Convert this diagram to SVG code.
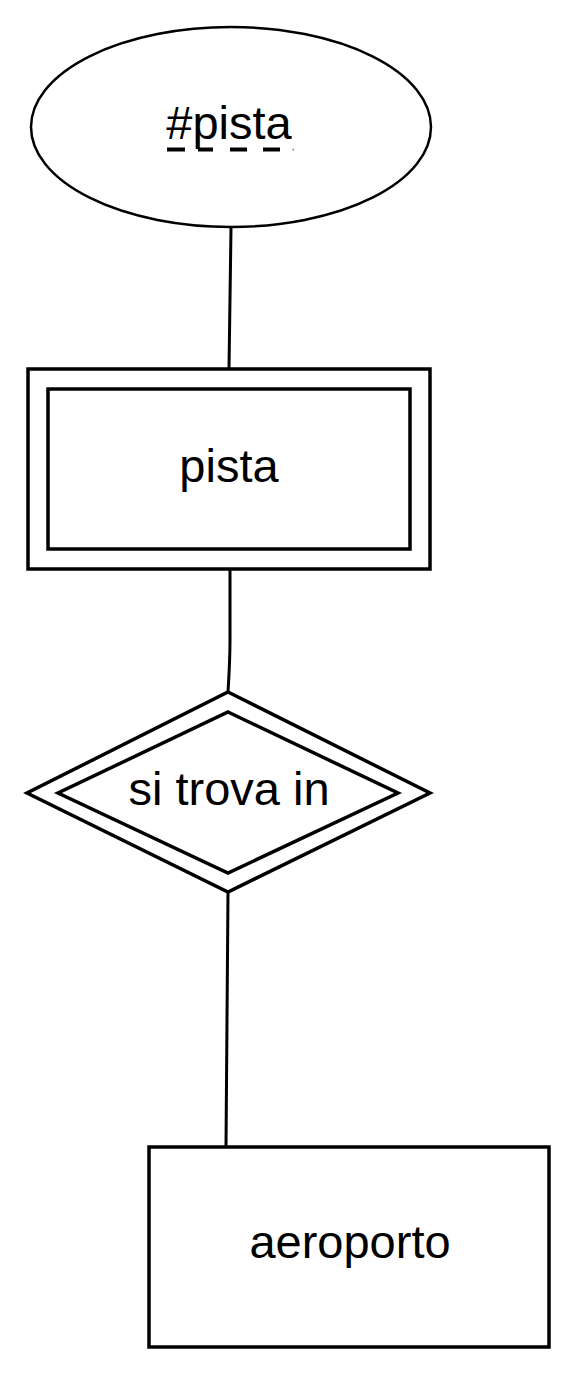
<svg xmlns="http://www.w3.org/2000/svg" width="576" height="1374" viewBox="0 0 576 1374">
<style>
.shape{fill:#fff;stroke:#000;stroke-width:3.5}
.ell{fill:#fff;stroke:#000;stroke-width:2.5}
.edge{fill:none;stroke:#000;stroke-width:3}
.lbl{font-family:"Liberation Sans",Arial,sans-serif;font-size:47px;fill:#000;text-anchor:middle}
</style>
<rect width="576" height="1374" fill="#fff"/>
<g id="connectors">
<path class="edge" d="M231 228 L229 369"/>
<path class="edge" d="M230 569 L230 640 Q230 660 228 692"/>
<path class="edge" d="M228 892 L226 1147"/>
</g>
<g id="attr-pista">
<ellipse class="ell" cx="231" cy="127" rx="200" ry="100"/>
<text class="lbl" x="229" y="139">#pista</text>
<path d="M167 149.5H185M198 149.5H213M230 149.5H247M263 149.5H280" stroke="#000" stroke-width="4" fill="none"/>
<path d="M292.5 149.5H294" stroke="#888" stroke-width="2" fill="none"/>
</g>
<g id="pista">
<rect class="shape" x="28" y="369" width="402" height="200"/>
<rect class="shape" x="48" y="389" width="362" height="160"/>
<text class="lbl" x="229" y="482">pista</text>
</g>
<g id="si-trova-in">
<polygon class="shape" points="228,692 430,793 228,892 27,793"/>
<polygon class="shape" points="228,712 398,793 228,873 58,793"/>
<text class="lbl" x="229" y="805">si trova in</text>
</g>
<g id="aeroporto">
<rect class="shape" x="149" y="1147" width="400" height="200"/>
<text class="lbl" x="350" y="1258">aeroporto</text>
</g>
</svg>
